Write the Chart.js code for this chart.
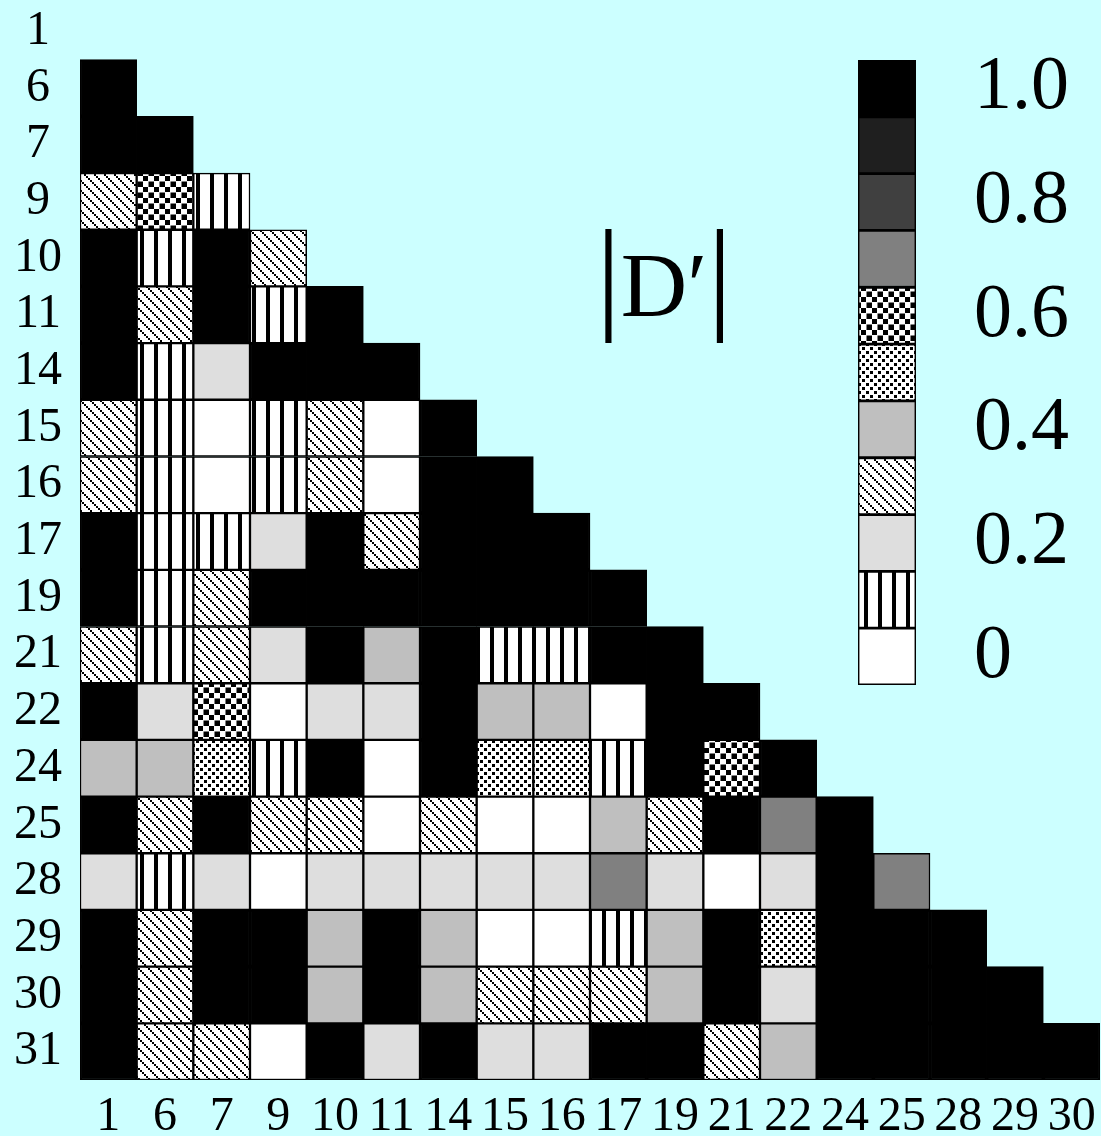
<!DOCTYPE html>
<html>
<head>
<meta charset="utf-8">
<script src="https://cdn.jsdelivr.net/npm/chart.js@4.4.1/dist/chart.umd.min.js"></script>
<style>
  html, body { margin: 0; padding: 0; background: #ccffff; }
  #wrap { position: relative; width: 1101px; height: 1136px; overflow: hidden; }
  #main { position: absolute; left: 0; top: 0; }
  #scale { position: absolute; left: 850px; top: 55px; }
  #title {
    position: absolute; left: 596px; top: 213px;
    font-family: "Liberation Serif", serif; font-size: 92px; line-height: 1;
    white-space: nowrap; color: #000;
  }
  #title .bar { font-size: 124px; }
</style>
</head>
<body>
<div id="wrap">
  <canvas id="main" width="1101" height="1136"></canvas>
  <canvas id="scale" width="251" height="635"></canvas>
  <div id="title"><span class="bar">|</span>D′<span class="bar">|</span></div>
</div>
<script>
// marker labels, rows top to bottom and columns left to right
const rowLabels = ['1', '6', '7', '9', '10', '11', '14', '15', '16', '17', '19', '21', '22', '24', '25', '28', '29', '30', '31'];
const colLabels = ['1', '6', '7', '9', '10', '11', '14', '15', '16', '17', '19', '21', '22', '24', '25', '28', '29', '30'];

// |D'| for each row, entry j pairs with colLabels[j] (row "1" has no pairs)
const dPrime = [
  [],
  [1.0],
  [1.0, 1.0],
  [0.3, 0.6, 0.1],
  [1.0, 0.1, 1.0, 0.3],
  [1.0, 0.3, 1.0, 0.1, 1.0],
  [1.0, 0.1, 0.2, 1.0, 1.0, 1.0],
  [0.3, 0.1, 0.0, 0.1, 0.3, 0.0, 1.0],
  [0.3, 0.1, 0.0, 0.1, 0.3, 0.0, 1.0, 1.0],
  [1.0, 0.1, 0.1, 0.2, 1.0, 0.3, 1.0, 1.0, 1.0],
  [1.0, 0.1, 0.3, 1.0, 1.0, 1.0, 1.0, 1.0, 1.0, 1.0],
  [0.3, 0.1, 0.3, 0.2, 1.0, 0.4, 1.0, 0.1, 0.1, 1.0, 1.0],
  [1.0, 0.2, 0.6, 0.0, 0.2, 0.2, 1.0, 0.4, 0.4, 0.0, 1.0, 1.0],
  [0.4, 0.4, 0.5, 0.1, 1.0, 0.0, 1.0, 0.5, 0.5, 0.1, 1.0, 0.6, 1.0],
  [1.0, 0.3, 1.0, 0.3, 0.3, 0.0, 0.3, 0.0, 0.0, 0.4, 0.3, 1.0, 0.7, 1.0],
  [0.2, 0.1, 0.2, 0.0, 0.2, 0.2, 0.2, 0.2, 0.2, 0.7, 0.2, 0.0, 0.2, 1.0, 0.7],
  [1.0, 0.3, 1.0, 1.0, 0.4, 1.0, 0.4, 0.0, 0.0, 0.1, 0.4, 1.0, 0.5, 1.0, 1.0, 1.0],
  [1.0, 0.3, 1.0, 1.0, 0.4, 1.0, 0.4, 0.3, 0.3, 0.3, 0.4, 1.0, 0.2, 1.0, 1.0, 1.0, 1.0],
  [1.0, 0.3, 0.3, 0.0, 1.0, 0.2, 1.0, 0.2, 0.2, 1.0, 1.0, 0.3, 0.4, 1.0, 1.0, 1.0, 1.0, 1.0]
];

// colour key levels and its tick labels
const keyLevels = [0.0, 0.1, 0.2, 0.3, 0.4, 0.5, 0.6, 0.7, 0.8, 0.9, 1.0];
const keyTicks = [0, 0.2, 0.4, 0.6, 0.8, 1.0];

const serif = '"Liberation Serif", serif';

// small tiles for the patterned levels
function makePattern(size, draw) {
    const c = document.createElement('canvas');
    c.width = size;
    c.height = size;
    const g = c.getContext('2d');
    g.fillStyle = '#fff';
    g.fillRect(0, 0, size, size);
    g.fillStyle = '#000';
    draw(g);
    return g.createPattern(c, 'repeat');
}

const stripes = makePattern(14, g => g.fillRect(0, 0, 4, 14));
const hatch = makePattern(10, g => {
    for (let k = 0; k < 5; k++) g.fillRect(2 * k, 2 * k, 2, 2);
});
const fineCheck = makePattern(8, g => { g.fillRect(0, 0, 3, 3); g.fillRect(4, 4, 3, 3); });
const coarseCheck = makePattern(11, g => { g.fillRect(0, 0, 5, 5); g.fillRect(5.5, 5.5, 5.5, 5.5); });

// one fill per tenth of |D'|
const fills = ['#ffffff', stripes, '#dedede', hatch, '#bfbfbf', fineCheck, coarseCheck, '#808080', '#404040', '#1f1f1f', '#000000'];

function fillFor(v) {
    return fills[Math.round((v || 0) * 10)];
}

// one dataset per row, each cell a floating bar one row tall
const datasets = dPrime.map((row, r) => ({
    label: rowLabels[r],
    data: row.map((v, c) => ({ x: colLabels[c], y: [r - 0.5, r + 0.5], v: v })),
    backgroundColor: ctx => fillFor(ctx.raw ? ctx.raw.v : 0),
    borderColor: '#000',
    borderWidth: 1.5,
    borderSkipped: false,
    grouped: false,
    barPercentage: 1,
    categoryPercentage: 1
}));

new Chart(document.getElementById('main'), {
    type: 'bar',
    data: { labels: colLabels, datasets: datasets },
    options: {
        responsive: false,
        animation: false,
        layout: { padding: { top: 3, right: 1, left: 0, bottom: 0 } },
        plugins: { legend: { display: false }, tooltip: { enabled: false } },
        scales: {
            x: {
                type: 'category',
                grid: { display: false, drawTicks: false },
                border: { display: false },
                ticks: { color: '#000', font: { family: serif, size: 48 }, padding: 9, maxRotation: 0, autoSkip: false },
                afterFit: s => { s.height = 56; s.paddingLeft = 0; s.paddingRight = 0; }
            },
            y: {
                type: 'linear',
                reverse: true,
                min: -0.5,
                max: 18.5,
                grid: { display: false, drawTicks: false },
                border: { display: false },
                afterBuildTicks: s => { s.ticks = rowLabels.map((l, i) => ({ value: i })); },
                ticks: {
                    color: '#000', font: { family: serif, size: 48 }, padding: 18, crossAlign: 'center',
                    autoSkip: false,
                    callback: v => rowLabels[v] ?? ''
                },
                afterFit: s => { s.width = 80; s.paddingTop = 0; s.paddingBottom = 0; }
            }
        }
    }
});

// colour key
new Chart(document.getElementById('scale'), {
    type: 'bar',
    data: {
        labels: ['key'],
        datasets: [{
            data: keyLevels.map((v, i) => ({ x: 'key', y: [i - 0.5, i + 0.5], v: v })),
            backgroundColor: ctx => fillFor(ctx.raw ? ctx.raw.v : 0),
            borderColor: '#000',
            borderWidth: 1.75,
            borderSkipped: false,
            barPercentage: 1,
            categoryPercentage: 1
        }]
    },
    options: {
        responsive: false,
        animation: false,
        layout: { padding: { top: 5, left: 8, right: 0, bottom: 5 } },
        plugins: { legend: { display: false }, tooltip: { enabled: false } },
        scales: {
            x: { display: false },
            y: {
                type: 'linear',
                position: 'right',
                min: -0.5,
                max: 10.5,
                grid: { display: false, drawTicks: false },
                border: { display: false },
                afterBuildTicks: s => { s.ticks = keyTicks.map(t => ({ value: Math.round(t * 10) })); },
                ticks: {
                    color: '#000', font: { family: serif, size: 76 }, padding: 58, autoSkip: false,
                    callback: v => v === 0 ? '0' : (v / 10).toFixed(1)
                },
                afterFit: s => { s.width = 185; s.paddingTop = 0; s.paddingBottom = 0; }
            }
        }
    }
});
</script>
</body>
</html>
